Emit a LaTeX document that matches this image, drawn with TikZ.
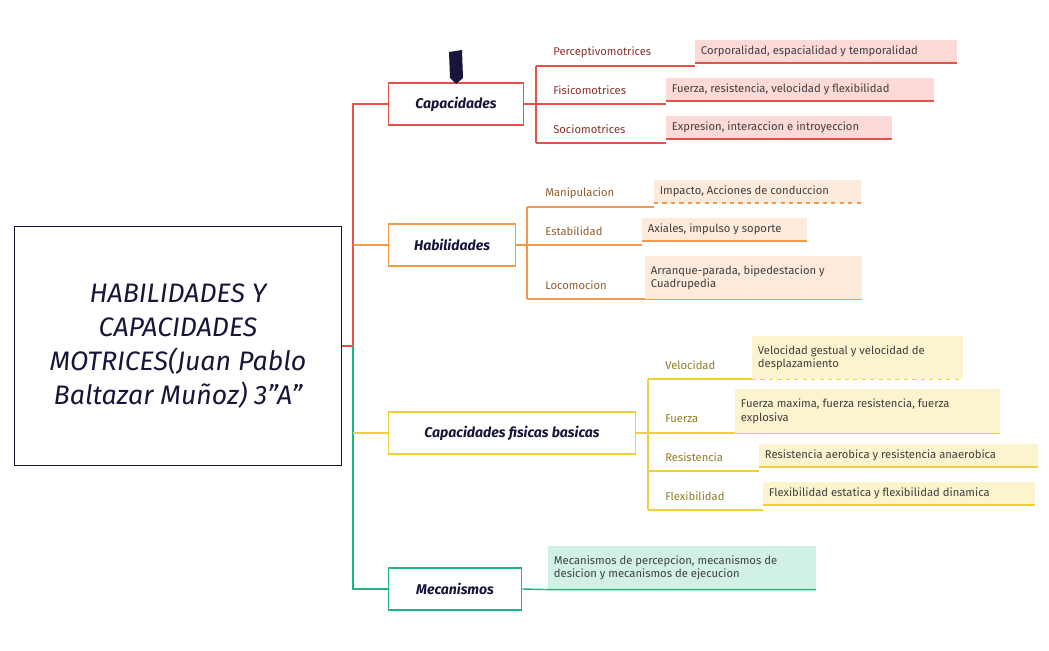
\documentclass[tikz,border=0pt]{standalone}
\usepackage{fontspec}
\setmainfont{Fira Sans}
\definecolor{rojo}{HTML}{E8504A}
\definecolor{rosa}{HTML}{FDD9D7}
\definecolor{naranja}{HTML}{F29A4A}
\definecolor{crema}{HTML}{FDEADB}
\definecolor{amarillo}{HTML}{F0CE3C}
\definecolor{paja}{HTML}{FCF3CF}
\definecolor{verde}{HTML}{1BB77B}
\definecolor{menta}{HTML}{D1F1E5}
\definecolor{tinta}{HTML}{15163A}
\tikzset{
  tema/.style={draw=#1, line width=1.3pt, fill=white, font=\itshape\bfseries, text=tinta, inner sep=0pt, minimum height=42*0.025cm},
  rama/.style={anchor=west, font=\footnotesize, text=#1!60!black, inner sep=0pt},
  hoja/.style 2 args={anchor=north west, fill=#1, font=\footnotesize, inner sep=4pt, align=flush left, text=black!75, text width=#2*0.025cm},
  linea/.style={draw=#1, line width=1pt}
}
\begin{document}
\begin{tikzpicture}[x=0.025cm, y=-0.025cm]
  \useasboundingbox (0,0) rectangle (1049,650);
  % raiz
  \node[draw=tinta, line width=1.2pt, minimum width=327*0.025cm, minimum height=239*0.025cm, align=center, font=\itshape\fontsize{19}{24}\selectfont, text=tinta] (raiz) at (178,346) {HABILIDADES Y\\CAPACIDADES\\MOTRICES(Juan Pablo\\ Baltazar Muñoz) 3"A"};
  % temas
  \node[tema=rojo, minimum width=135*0.025cm] (cap) at (456,104) {Capacidades};
  \node[tema=naranja, minimum width=127*0.025cm] (hab) at (452,245) {Habilidades};
  \node[tema=amarillo, minimum width=247*0.025cm] (cfb) at (512,433) {Capacidades fisicas basicas};
  \node[tema=verde, minimum width=133*0.025cm] (mec) at (455,589) {Mecanismos};
  \fill[tinta] (449,52) -- (462,50) -- (463,78) -- (456,84) -- (450,78) -- cycle;
  \coordinate (tr) at (353,346);
  \draw[linea=rojo] (raiz.east) -- (tr) |- (cap.west);
  \draw[linea=naranja] (tr |- hab.west) -- (hab.west);
  \draw[linea=verde] (tr) |- (mec.west);
  \draw[linea=amarillo] (tr |- cfb.west) -- (cfb.west);
  % capacidades
  \foreach \t/\y/\n/\l in {Perceptivomotrices/66/c1/695, Fisicomotrices/104/c2/666, Sociomotrices/143/c3/666}{
    \node[rama=rojo] (\n) at (553,\y-14) {\t};
    \draw[linea=rojo] (536,\y) -- (\l,\y);
  }
  \draw[linea=rojo] (cap.east) -- (536,104) (536,66) -- (536,143);
  \node[hoja={rosa}{250}] (h1) at (695,40) {Corporalidad, espacialidad y temporalidad};
  \node[hoja={rosa}{256}] (h2) at (666,78) {Fuerza, resistencia, velocidad y flexibilidad};
  \node[hoja={rosa}{214}] (h3) at (666,116) {Expresion, interaccion e introyeccion};
  \draw[linea=rojo] (h1.south west) -- (h1.south east) (h2.south west) -- (h2.south east) (h3.south west) -- (h3.south east);
  % habilidades
  \foreach \t/\y/\n/\l in {Manipulacion/207/m1/654, Estabilidad/245/m2/642, Locomocion/299/m3/645}{
    \node[rama=naranja] (\n) at (545,\y-14) {\t};
    \draw[linea=naranja] (527,\y) -- (\l,\y);
  }
  \draw[linea=naranja] (hab.east) -- (527,245) (527,207) -- (527,299);
  \node[hoja={crema}{195}] (k1) at (654,180) {Impacto, Acciones de conduccion};
  \node[hoja={crema}{153}] (k2) at (642,218) {Axiales, impulso y soporte};
  \node[hoja={crema}{205}, minimum height=43*0.025cm] (k3) at (645,256) {Arranque-parada, bipedestacion y Cuadrupedia};
  \draw[linea=naranja, dashed] (k1.south west) -- (k1.south east);
  \draw[linea=naranja] (k2.south west) -- (k2.south east) (k3.south west) -- (k3.south east);
  % capacidades fisicas basicas
  \foreach \t/\y/\n/\l in {Velocidad/379/f1/752, Fuerza/433/f2/735, Resistencia/471/f3/759, Flexibilidad/510/f4/763}{
    \node[rama=amarillo] (\n) at (665,\y-14) {\t};
    \draw[linea=amarillo] (648,\y) -- (\l,\y);
  }
  \draw[linea=amarillo] (cfb.east) -- (648,433) (648,379) -- (648,510);
  \node[hoja={paja}{199}, minimum height=43*0.025cm] (v1) at (752,336) {Velocidad gestual y velocidad de desplazamiento};
  \node[hoja={paja}{253}, minimum height=44*0.025cm] (v2) at (735,389) {Fuerza maxima, fuerza resistencia, fuerza explosiva};
  \node[hoja={paja}{267}] (v3) at (759,444) {Resistencia aerobica y resistencia anaerobica};
  \node[hoja={paja}{260}] (v4) at (763,482) {Flexibilidad estatica y flexibilidad dinamica};
  \draw[linea=amarillo, dashed] (v1.south west) -- (v1.south east);
  \draw[linea=amarillo] (v2.south west) -- (v2.south east) (v3.south west) -- (v3.south east) (v4.south west) -- (v4.south east);
  % mecanismos
  \node[hoja={menta}{256}, minimum height=43*0.025cm] (n1) at (548,546) {Mecanismos de percepcion, mecanismos de desicion y mecanismos de ejecucion};
  \draw[linea=verde] (mec.east) -- (n1.south west) -- (n1.south east);
\end{tikzpicture}
\end{document}
